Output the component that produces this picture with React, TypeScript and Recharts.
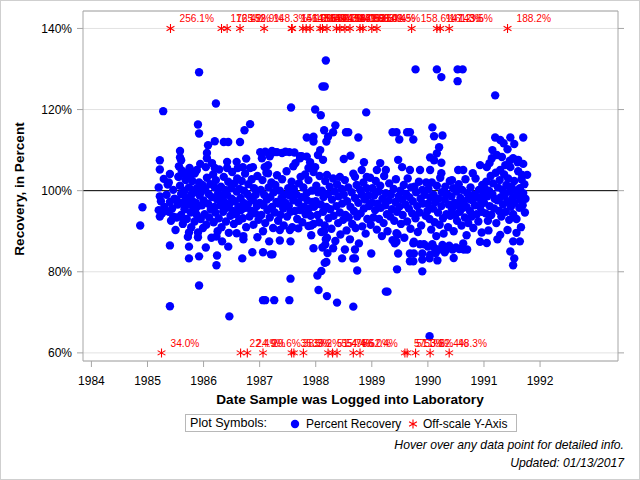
import React from 'react';
import { ScatterChart, Scatter, XAxis, YAxis, CartesianGrid, ReferenceLine } from 'recharts';

const FONT = '"Liberation Sans", Arial, Helvetica, sans-serif';

type Pt = [number, number];

// Percent recovery by log date (decimal year, percent)
const recovery1984: Pt[] = [
  [1984.87, 91.4], [1984.91, 95.9],
];

const recovery1985: Pt[] = [
  [1985.28, 119.6], [1985.40, 86.5], [1985.40, 71.5], [1985.92, 76.6], [1985.92, 83.8], [1985.74, 83.3],
  [1985.74, 86.2], [1985.90, 88.5], [1985.90, 89.7], [1985.74, 89.7], [1985.92, 129.2], [1985.90, 116.3],
  [1985.92, 114.1], [1985.22, 107.5], [1985.22, 105.2], [1985.58, 109.8], [1985.58, 108.2],
  [1985.20, 100.8], [1985.22, 98.6], [1985.24, 97.4], [1985.20, 95.2], [1985.26, 94.4], [1985.22, 93.6],
  [1985.30, 96.0], [1985.34, 99.0], [1985.36, 101.5], [1985.38, 94.8], [1985.40, 97.2], [1985.42, 92.6],
  [1985.44, 95.6], [1985.46, 100.2], [1985.48, 98.0], [1985.50, 90.3], [1985.52, 93.4], [1985.54, 96.6],
  [1985.55, 103.4], [1985.56, 106.0], [1985.58, 101.2], [1985.60, 99.2], [1985.60, 94.0], [1985.62, 97.0],
  [1985.63, 91.8], [1985.64, 104.2], [1985.66, 100.0], [1985.66, 95.4], [1985.68, 102.6], [1985.68, 98.2],
  [1985.70, 93.0], [1985.72, 96.6], [1985.72, 88.6], [1985.74, 100.8], [1985.75, 105.6], [1985.76, 98.4],
  [1985.77, 94.6], [1985.78, 91.0], [1985.80, 97.4], [1985.80, 102.4], [1985.82, 95.8], [1985.83, 99.6],
  [1985.84, 92.4], [1985.86, 104.8], [1985.86, 97.0], [1985.88, 100.6], [1985.88, 94.0], [1985.90, 96.2],
  [1985.92, 102.0], [1985.93, 98.8], [1985.94, 106.6], [1985.95, 93.0], [1985.96, 99.8], [1985.97, 96.4],
  [1985.98, 101.4], [1985.99, 90.8], [1985.29, 102.9], [1985.40, 104.1], [1985.38, 102.0], [1985.60, 107.5],
  [1985.61, 105.0], [1985.56, 103.5], [1985.72, 104.6], [1985.75, 103.4], [1985.88, 105.1], [1985.84, 104.2],
  [1985.70, 97.8], [1985.78, 99.0], [1985.85, 95.0], [1985.64, 92.8], [1985.52, 97.8], [1985.46, 93.6],
];

const recovery1986: Pt[] = [
  [1986.08, 111.2], [1986.20, 112.2], [1986.36, 112.0], [1986.44, 112.0], [1986.65, 112.0], [1986.73, 114.9],
  [1986.83, 116.4], [1986.22, 121.5], [1986.06, 108.0], [1986.04, 105.8], [1986.15, 106.8], [1986.20, 105.6],
  [1986.42, 107.1], [1986.42, 105.6], [1986.59, 107.1], [1986.61, 105.6], [1986.76, 107.9], [1986.70, 105.8],
  [1986.83, 105.6], [1986.88, 105.8], [1986.06, 109.3],
  [1986.00, 97.6], [1986.02, 94.2], [1986.03, 100.4], [1986.05, 91.6], [1986.06, 103.2], [1986.08, 96.8],
  [1986.09, 99.2], [1986.10, 93.4], [1986.12, 101.6], [1986.13, 95.4], [1986.14, 88.4], [1986.15, 98.4],
  [1986.17, 104.0], [1986.18, 92.2], [1986.19, 96.0], [1986.20, 100.8], [1986.21, 94.6], [1986.22, 102.6],
  [1986.24, 97.8], [1986.25, 90.0], [1986.26, 99.4], [1986.27, 93.2], [1986.28, 105.2], [1986.30, 96.4],
  [1986.31, 101.0], [1986.32, 91.0], [1986.33, 98.6], [1986.35, 94.8], [1986.36, 103.4], [1986.37, 97.2],
  [1986.38, 100.2], [1986.40, 92.4], [1986.41, 95.8], [1986.42, 99.0], [1986.44, 102.2], [1986.45, 89.6],
  [1986.46, 96.6], [1986.48, 93.8], [1986.49, 100.6], [1986.50, 98.0], [1986.51, 104.6], [1986.52, 95.0],
  [1986.54, 91.8], [1986.55, 101.8], [1986.56, 97.4], [1986.58, 94.2], [1986.59, 99.8], [1986.60, 103.0],
  [1986.62, 96.0], [1986.63, 92.6], [1986.64, 100.4], [1986.66, 98.2], [1986.67, 95.2], [1986.68, 102.4],
  [1986.70, 93.2], [1986.71, 97.0], [1986.72, 100.0], [1986.74, 104.2], [1986.75, 95.8], [1986.76, 91.0],
  [1986.78, 99.2], [1986.79, 96.6], [1986.80, 101.6], [1986.82, 93.6], [1986.83, 98.4], [1986.85, 95.0],
  [1986.86, 102.8], [1986.88, 97.6], [1986.89, 91.6], [1986.90, 100.6], [1986.92, 94.4], [1986.93, 99.0],
  [1986.95, 96.2], [1986.96, 103.6], [1986.98, 92.8],
  [1986.23, 81.6], [1986.24, 84.0], [1986.04, 86.0], [1986.44, 86.2], [1986.69, 83.3], [1986.87, 84.8],
  [1986.46, 69.0], [1986.23, 88.7], [1986.33, 87.5], [1986.59, 89.5], [1986.71, 88.0], [1986.71, 88.8],
  [1986.96, 88.5],
];

const recovery1987: Pt[] = [
  [1987.01, 109.5], [1987.27, 109.5], [1987.18, 108.5], [1987.31, 109.5], [1987.04, 108.0], [1987.09, 105.8],
  [1987.15, 104.3], [1987.15, 106.3], [1987.53, 109.5], [1987.72, 108.5], [1987.60, 106.0], [1987.72, 108.0],
  [1987.56, 120.5], [1987.84, 113.1], [1987.96, 113.3], [1987.96, 112.1], [1987.06, 84.8], [1987.20, 84.3],
  [1987.23, 84.3], [1987.55, 78.3], [1987.06, 73.0], [1987.10, 73.0], [1987.26, 73.0], [1987.53, 73.0],
  [1987.96, 85.8], [1987.55, 87.5], [1987.36, 87.7], [1987.17, 87.5], [1987.06, 90.0], [1987.69, 90.7],
  [1987.92, 89.0], [1987.92, 91.4], [1987.96, 91.8], [1987.87, 91.3], [1987.36, 90.3], [1987.54, 90.3],
  [1987.10, 109.6], [1987.22, 109.8], [1987.40, 109.3], [1987.46, 109.6], [1987.62, 109.4],
  [1987.84, 108.4], [1987.75, 108.5], [1987.87, 105.6], [1987.99, 105.8], [1987.99, 120.0],
  [1987.00, 97.0], [1987.02, 100.2], [1987.03, 94.0], [1987.05, 102.6], [1987.07, 96.4], [1987.08, 99.0],
  [1987.10, 92.0], [1987.12, 104.4], [1987.13, 97.8], [1987.14, 95.2], [1987.16, 100.8], [1987.18, 93.4],
  [1987.19, 98.4], [1987.21, 102.0], [1987.22, 96.0], [1987.24, 90.8], [1987.25, 99.6], [1987.27, 94.6],
  [1987.28, 101.4], [1987.30, 97.2], [1987.31, 103.8], [1987.33, 92.6], [1987.34, 96.8], [1987.36, 100.0],
  [1987.37, 94.0], [1987.39, 98.2], [1987.40, 102.8], [1987.42, 95.6], [1987.43, 91.4], [1987.45, 99.0],
  [1987.46, 97.0], [1987.48, 104.8], [1987.49, 93.6], [1987.51, 100.6], [1987.52, 96.2], [1987.54, 98.8],
  [1987.55, 94.8], [1987.57, 102.2], [1987.58, 91.0], [1987.60, 97.6], [1987.61, 100.4], [1987.63, 95.0],
  [1987.64, 106.8], [1987.66, 99.0], [1987.67, 93.0], [1987.69, 97.0], [1987.70, 101.8], [1987.72, 95.2],
  [1987.73, 103.4], [1987.75, 98.4], [1987.76, 92.2], [1987.78, 100.8], [1987.79, 96.0], [1987.81, 104.0],
  [1987.82, 94.2], [1987.84, 99.4], [1987.85, 97.6], [1987.87, 102.6], [1987.88, 95.6], [1987.90, 107.0],
  [1987.91, 93.8], [1987.93, 100.0], [1987.94, 97.2], [1987.96, 104.6], [1987.97, 96.0],
];

const recovery1988: Pt[] = [
  [1988.18, 132.1], [1988.12, 125.7], [1988.16, 125.7], [1988.09, 118.6], [1988.15, 114.9], [1988.31, 114.4],
  [1988.22, 113.3], [1988.19, 112.1], [1988.54, 114.4], [1988.58, 114.4], [1988.76, 113.1], [1988.35, 116.1],
  [1988.90, 119.3], [1988.08, 110.0], [1988.04, 108.8], [1988.13, 107.6], [1988.20, 103.9], [1988.43, 103.4],
  [1988.70, 103.4], [1988.82, 105.1], [1988.91, 103.4], [1988.50, 107.8], [1988.62, 108.6], [1988.86, 107.0],
  [1988.17, 86.7], [1988.19, 82.4], [1988.16, 82.2], [1988.10, 80.2], [1988.03, 79.1], [1988.05, 75.5],
  [1988.20, 74.0], [1988.38, 72.4], [1988.67, 71.4], [1988.74, 80.3], [1988.47, 83.3], [1988.67, 83.3],
  [1988.99, 84.5], [1988.31, 85.8], [1988.70, 85.5], [1988.70, 83.3], [1988.52, 85.5],
  [1988.15, 90.0], [1988.18, 88.0], [1988.12, 86.0], [1988.21, 84.6],
  [1988.00, 97.4], [1988.01, 101.2], [1988.03, 94.0], [1988.04, 99.6], [1988.06, 92.2], [1988.07, 103.6],
  [1988.09, 96.6], [1988.10, 89.8], [1988.11, 100.0], [1988.13, 94.8], [1988.14, 98.4], [1988.16, 91.4],
  [1988.17, 102.4], [1988.19, 96.0], [1988.20, 88.4], [1988.22, 99.2], [1988.23, 93.2], [1988.25, 101.0],
  [1988.26, 95.4], [1988.28, 90.6], [1988.29, 97.8], [1988.31, 103.0], [1988.32, 93.8], [1988.34, 99.8],
  [1988.35, 87.6], [1988.37, 96.2], [1988.38, 101.6], [1988.40, 92.0], [1988.41, 98.6], [1988.43, 94.6],
  [1988.44, 89.2], [1988.46, 100.4], [1988.47, 96.8], [1988.49, 92.8], [1988.50, 99.0], [1988.52, 102.6],
  [1988.53, 94.0], [1988.55, 90.2], [1988.56, 97.4], [1988.58, 100.8], [1988.59, 93.4], [1988.61, 88.0],
  [1988.62, 96.0], [1988.64, 99.6], [1988.65, 91.8], [1988.67, 104.2], [1988.68, 95.0], [1988.70, 98.2],
  [1988.71, 90.8], [1988.73, 101.4], [1988.74, 93.6], [1988.76, 97.0], [1988.77, 87.0], [1988.79, 100.2],
  [1988.80, 94.4], [1988.82, 99.0], [1988.83, 91.2], [1988.85, 102.0], [1988.86, 95.6], [1988.88, 97.8],
  [1988.89, 89.4], [1988.91, 100.6], [1988.92, 93.0], [1988.94, 98.8], [1988.95, 96.2], [1988.97, 103.2],
  [1988.98, 91.6],
];

const recovery1989: Pt[] = [
  [1989.78, 129.9], [1989.37, 114.4], [1989.44, 114.4], [1989.49, 112.6], [1989.63, 114.4], [1989.68, 114.4],
  [1989.74, 112.6], [1989.09, 105.1], [1989.15, 106.8], [1989.25, 105.1], [1989.47, 107.6], [1989.54, 105.8],
  [1989.68, 105.1], [1989.86, 105.1],
  [1989.25, 75.1], [1989.28, 75.1], [1989.45, 80.6], [1989.90, 80.1], [1989.47, 84.5], [1989.68, 82.6],
  [1989.74, 82.6], [1989.90, 83.0], [1989.68, 84.5], [1989.75, 84.5], [1989.90, 84.5], [1989.41, 87.0],
  [1989.44, 89.5], [1989.44, 87.4], [1989.74, 87.0], [1989.86, 86.8],
  [1989.00, 97.0], [1989.01, 100.6], [1989.03, 93.4], [1989.04, 98.8], [1989.06, 95.2], [1989.07, 102.4],
  [1989.09, 90.4], [1989.10, 96.8], [1989.12, 99.8], [1989.13, 93.0], [1989.15, 101.2], [1989.16, 95.8],
  [1989.18, 88.8], [1989.19, 98.0], [1989.21, 92.0], [1989.22, 103.6], [1989.24, 96.4], [1989.25, 99.4],
  [1989.27, 94.2], [1989.28, 90.0], [1989.30, 97.6], [1989.31, 101.8], [1989.33, 93.6], [1989.34, 99.0],
  [1989.36, 95.4], [1989.37, 87.8], [1989.39, 100.4], [1989.40, 92.6], [1989.42, 97.2], [1989.43, 102.8],
  [1989.45, 94.8], [1989.46, 89.2], [1989.48, 98.6], [1989.49, 96.0], [1989.51, 100.0], [1989.52, 91.8],
  [1989.54, 97.8], [1989.55, 94.0], [1989.57, 101.4], [1989.58, 88.4], [1989.60, 96.6], [1989.61, 99.2],
  [1989.63, 92.4], [1989.64, 103.0], [1989.66, 95.6], [1989.67, 98.4], [1989.69, 90.6], [1989.70, 100.8],
  [1989.72, 94.4], [1989.73, 97.4], [1989.75, 87.4], [1989.76, 101.0], [1989.78, 93.2], [1989.79, 99.6],
  [1989.81, 96.2], [1989.82, 89.8], [1989.84, 102.2], [1989.85, 94.6], [1989.87, 98.0], [1989.88, 91.4],
  [1989.90, 100.2], [1989.91, 96.8], [1989.93, 86.8], [1989.94, 99.0], [1989.96, 93.8], [1989.97, 102.0],
  [1989.99, 95.0],
];

const recovery1990: Pt[] = [
  [1990.16, 129.9], [1990.24, 128.0], [1990.53, 129.9], [1990.62, 129.9], [1990.53, 127.0], [1990.08, 115.6],
  [1990.11, 113.4], [1990.26, 113.6], [1990.20, 110.7], [1990.16, 109.2], [1990.04, 108.2], [1990.11, 107.5],
  [1990.24, 106.9], [1990.04, 105.1], [1990.24, 104.3], [1990.43, 102.6], [1990.54, 105.1], [1990.63, 105.1],
  [1990.80, 104.3], [1990.93, 106.3],
  [1990.03, 64.1], [1990.03, 83.3], [1990.17, 82.8], [1990.08, 86.8], [1990.20, 85.5], [1990.33, 85.5],
  [1990.44, 85.5], [1990.64, 85.5], [1990.70, 85.5], [1990.63, 87.0], [1990.69, 89.0], [1990.96, 89.7],
  [1990.93, 87.4], [1990.00, 86.2], [1990.12, 85.8], [1990.26, 86.6], [1990.38, 86.4], [1990.50, 86.0],
  [1990.56, 85.6], [1990.14, 84.6], [1990.04, 84.2], [1990.30, 84.8], [1990.46, 83.4],
  [1990.00, 96.8], [1990.01, 100.4], [1990.03, 93.0], [1990.04, 98.4], [1990.06, 90.4], [1990.07, 102.0],
  [1990.09, 95.6], [1990.10, 99.0], [1990.12, 92.2], [1990.13, 97.2], [1990.15, 88.8], [1990.16, 101.2],
  [1990.18, 94.6], [1990.19, 98.0], [1990.21, 91.6], [1990.22, 103.2], [1990.24, 96.2], [1990.25, 99.6],
  [1990.27, 93.2], [1990.28, 89.4], [1990.30, 97.8], [1990.31, 101.0], [1990.33, 94.2], [1990.34, 99.2],
  [1990.36, 91.0], [1990.37, 96.6], [1990.39, 102.4], [1990.40, 93.8], [1990.42, 98.6], [1990.43, 95.4],
  [1990.45, 100.6], [1990.46, 90.0], [1990.48, 97.0], [1990.49, 94.0], [1990.51, 99.8], [1990.52, 92.6],
  [1990.54, 96.4], [1990.55, 101.6], [1990.57, 94.8], [1990.58, 98.2], [1990.60, 91.4], [1990.61, 100.2],
  [1990.63, 95.8], [1990.64, 97.4], [1990.66, 93.4], [1990.67, 102.8], [1990.69, 96.0], [1990.70, 99.4],
  [1990.72, 92.0], [1990.73, 98.0], [1990.75, 95.0], [1990.76, 100.8], [1990.78, 93.6], [1990.79, 97.6],
  [1990.81, 90.8], [1990.82, 99.0], [1990.84, 96.4], [1990.85, 103.0], [1990.87, 94.2], [1990.88, 98.4],
  [1990.90, 92.4], [1990.91, 100.2], [1990.93, 96.0], [1990.94, 97.8], [1990.96, 94.8], [1990.97, 101.4],
  [1990.99, 99.0],
];

const recovery1991: Pt[] = [
  [1991.20, 123.5], [1991.20, 113.1], [1991.29, 112.5], [1991.35, 111.7], [1991.47, 113.1], [1991.54, 111.5],
  [1991.70, 113.1], [1991.15, 110.0], [1991.42, 110.2], [1991.14, 108.0], [1991.23, 108.8], [1991.32, 108.3],
  [1991.38, 106.3], [1991.52, 108.0], [1991.61, 107.6], [1991.68, 103.9], [1991.77, 103.9], [1991.47, 105.8],
  [1991.29, 105.1], [1991.05, 105.8], [1991.05, 87.1],
  [1991.52, 81.6], [1991.54, 83.3], [1991.47, 85.0], [1991.64, 87.5], [1991.52, 87.5], [1991.42, 90.3],
  [1991.29, 89.1],
  [1991.00, 97.0], [1991.01, 100.6], [1991.03, 94.4], [1991.04, 102.2], [1991.06, 98.6], [1991.07, 92.6],
  [1991.09, 100.0], [1991.10, 96.2], [1991.12, 103.6], [1991.13, 94.0], [1991.15, 99.2], [1991.16, 101.8],
  [1991.18, 95.6], [1991.19, 98.0], [1991.21, 104.4], [1991.22, 92.0], [1991.24, 97.6], [1991.25, 100.8],
  [1991.27, 95.0], [1991.28, 102.6], [1991.30, 98.4], [1991.31, 93.6], [1991.33, 100.2], [1991.34, 96.6],
  [1991.36, 104.0], [1991.37, 99.0], [1991.39, 94.8], [1991.40, 101.4], [1991.42, 97.4], [1991.43, 103.0],
  [1991.45, 92.8], [1991.46, 99.8], [1991.48, 96.0], [1991.49, 101.0], [1991.51, 98.2], [1991.52, 94.2],
  [1991.54, 102.4], [1991.55, 97.0], [1991.57, 100.0], [1991.58, 93.0], [1991.60, 98.8], [1991.61, 104.8],
  [1991.63, 95.8], [1991.64, 100.6], [1991.66, 97.8], [1991.67, 102.8], [1991.69, 96.4], [1991.70, 99.4],
  [1991.72, 101.6], [1991.73, 94.6], [1991.74, 98.0], [1991.70, 106.6], [1991.60, 107.0], [1991.46, 107.4],
  [1991.10, 106.8], [1991.08, 90.2], [1991.24, 88.0], [1991.58, 89.6], [1991.66, 91.0],
];

// Results above the 140% axis limit
const offHighDates = [
  1985.41, 1986.32, 1986.42, 1986.65, 1987.08, 1987.57, 1987.58, 1987.77, 1987.83, 1987.90, 1988.08, 1988.12,
  1988.20, 1988.37, 1988.43, 1988.52, 1988.61, 1988.79, 1988.84, 1989.00, 1989.09, 1989.71, 1990.16, 1990.22,
  1990.38, 1991.42,
];
const offHighValues = [
  256.1, 172.4, 165.2, 152.9, 148.3, 146.0, 151.2, 143.8, 160.5, 155.0, 149.7, 162.3,
  144.1, 170.8, 158.0, 147.6, 141.9, 153.3, 166.0, 150.4, 142.5, 158.6, 147.2, 161.3,
  143.5, 188.2,
];

// Results below the 60% axis limit
const offLowDates = [
  1985.25, 1986.66, 1986.78, 1987.06, 1987.57, 1987.61, 1987.78, 1988.22, 1988.30, 1988.38, 1988.67, 1988.79,
  1989.59, 1989.63, 1989.78, 1990.04, 1990.38,
];
const offLowValues = [
  34.0, 22.4, 24.9, 29.6, 35.5, 38.3, 39.2, 51.4, 55.7, 54.4, 56.0, 52.4,
  57.1, 51.3, 53.2, 52.4, 48.3,
];

const xTicks = [1984, 1985, 1986, 1987, 1988, 1989, 1990, 1991, 1992];
const yTicks = [60, 80, 100, 120, 140];

const X_DOMAIN: [number, number] = [1983.85, 1993.39];
const Y_DOMAIN: [number, number] = [58, 144.3];
const Y_MIN_SHOWN = 60;
const Y_MAX_SHOWN = 140;

const recoveryData = [
  ...recovery1984, ...recovery1985, ...recovery1986, ...recovery1987,
  ...recovery1988, ...recovery1989, ...recovery1990, ...recovery1991,
].map(([date, pct]) => ({ date, pct }));

// Off-scale results are pinned to the nearest axis limit and labelled with the measured value
const offScaleData = [
  ...offHighDates.map((date, i) => ({ date, actual: offHighValues[i] })),
  ...offLowDates.map((date, i) => ({ date, actual: offLowValues[i] })),
].map((d) => ({ ...d, pct: Math.min(Y_MAX_SHOWN, Math.max(Y_MIN_SHOWN, d.actual)) }));

const AXIS_GRAY = '#a6a6a6';

const BlueDot = (p: any) => <circle cx={p.cx} cy={p.cy} r={4.2} fill="#0000ff" />;

const asteriskPath = (cx: number, cy: number, r: number) => {
  const dx = r * 0.87;
  const dy = r * 0.5;
  return `M${cx},${cy - r}V${cy + r}M${cx - dx},${cy - dy}L${cx + dx},${cy + dy}M${cx - dx},${cy + dy}L${cx + dx},${cy - dy}`;
};

const OffScaleMark = (p: any) => {
  const { cx, cy, payload } = p;
  return (
    <g>
      <path d={asteriskPath(cx, cy, 4.5)} stroke="#ff0000" strokeWidth={1.1} fill="none" />
      <text x={cx + 9} y={cy - 6} fontSize={10.2} fill="#ff0000" fontFamily={FONT}>
        {`${payload.actual.toFixed(1)}%`}
      </text>
    </g>
  );
};

const tickStyle = { fontSize: 12, fill: '#000', fontFamily: FONT };

export default function App() {
  return (
    <div
      style={{
        position: 'absolute', left: 0, top: 0, width: 640, height: 480, background: '#fff',
        fontFamily: FONT, boxSizing: 'border-box', border: '1px solid #cfcfcf', overflow: 'hidden',
      }}
    >
      <div style={{ position: 'absolute', left: -1, top: -1 }}>
        <ScatterChart width={640} height={480} margin={{ top: 11, right: 0, bottom: 0, left: 0 }}>
          <CartesianGrid vertical={false} stroke="#e2e2e2" />
          <XAxis
            dataKey="date" type="number" domain={X_DOMAIN} ticks={xTicks} allowDataOverflow
            height={119} tickSize={6} tickMargin={9} tick={tickStyle}
            axisLine={{ stroke: AXIS_GRAY }} tickLine={{ stroke: AXIS_GRAY }}
          />
          <YAxis
            dataKey="pct" type="number" domain={Y_DOMAIN} ticks={yTicks} allowDataOverflow
            width={83} tickSize={6} tickMargin={5} tick={tickStyle} tickFormatter={(v: number) => `${v}%`}
            axisLine={{ stroke: AXIS_GRAY }} tickLine={{ stroke: AXIS_GRAY }}
          />
          <YAxis
            yAxisId="right" orientation="right" dataKey="pct" type="number" domain={Y_DOMAIN} ticks={yTicks}
            allowDataOverflow width={22} tickSize={6} tick={tickStyle} tickFormatter={() => ''}
            axisLine={{ stroke: AXIS_GRAY }} tickLine={{ stroke: AXIS_GRAY }}
          />
          <ReferenceLine y={Y_DOMAIN[1]} stroke={AXIS_GRAY} />
          <ReferenceLine y={100} stroke="#000" strokeWidth={1} />
          <Scatter data={recoveryData} shape={BlueDot} isAnimationActive={false} />
          <Scatter data={offScaleData} yAxisId="right" shape={OffScaleMark} isAnimationActive={false} />
        </ScatterChart>
      </div>

      <div
        style={{
          position: 'absolute', left: 18, top: 188, transform: 'translate(-50%, -50%) rotate(-90deg)',
          whiteSpace: 'nowrap', fontWeight: 'bold', fontSize: 13.6, color: '#000',
        }}
      >
        Recovery, in Percent
      </div>
      <div
        style={{
          position: 'absolute', left: 349, top: 398, transform: 'translate(-50%, -50%)',
          whiteSpace: 'nowrap', fontWeight: 'bold', fontSize: 13.6, color: '#000',
        }}
      >
        Date Sample was Logged into Laboratory
      </div>

      <div
        style={{
          position: 'absolute', left: 184, top: 413, width: 332, height: 18,
          border: '1px solid #b8b8b8', boxSizing: 'border-box', fontSize: 12, color: '#000',
        }}
      >
        <span style={{ position: 'absolute', left: 4, top: 1, whiteSpace: 'nowrap', fontSize: 12.6 }}>Plot Symbols:</span>
        <svg style={{ position: 'absolute', left: 104, top: 4 }} width={10} height={10}>
          <circle cx={5} cy={5} r={4.2} fill="#0000ff" />
        </svg>
        <span style={{ position: 'absolute', left: 120, top: 1.5, whiteSpace: 'nowrap' }}>Percent Recovery</span>
        <svg style={{ position: 'absolute', left: 222, top: 4 }} width={10} height={10}>
          <path d={asteriskPath(5, 5, 4.5)} stroke="#ff0000" strokeWidth={1.1} fill="none" />
        </svg>
        <span style={{ position: 'absolute', left: 237, top: 1.5, whiteSpace: 'nowrap' }}>Off-scale Y-Axis</span>
      </div>

      <div
        style={{
          position: 'absolute', right: 15, top: 437, whiteSpace: 'nowrap', fontStyle: 'italic',
          fontSize: 12.2, color: '#000', textAlign: 'right',
        }}
      >
        Hover over any data point for detailed info.
      </div>
      <div
        style={{
          position: 'absolute', right: 15, top: 455, whiteSpace: 'nowrap', fontStyle: 'italic',
          fontSize: 12.2, color: '#000', textAlign: 'right',
        }}
      >
        Updated: 01/13/2017
      </div>
    </div>
  );
}
